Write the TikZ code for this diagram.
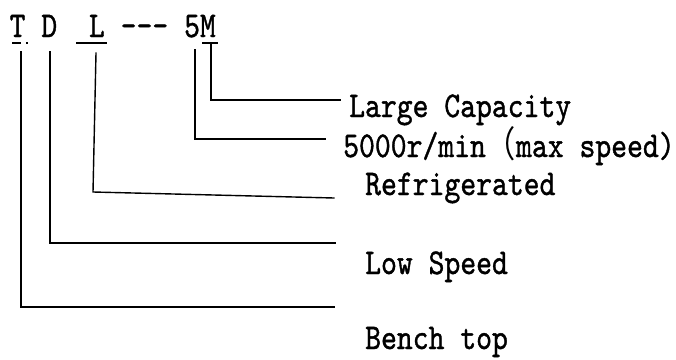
\documentclass[tikz,border=0pt]{standalone}
\usepackage{fontspec}
\usepackage{graphicx}
\newfontfamily\cjk{Noto Sans CJK SC}
\newfontfamily\codefont[FakeBold=1.2]{lmmono10-regular.otf}
\newcommand{\tallt}[1]{\scalebox{1}[1.2]{#1}}
\tikzset{
  lbl/.style={anchor=base west, inner sep=0pt,
              font=\codefont\fontsize{30.2}{36}\selectfont},
  conn/.style={line width=1.4pt, line join=miter, line cap=rect},
  uline/.style={line width=2pt},
}
\begin{document}
\begin{tikzpicture}[x=1pt, y=-1pt]
  \useasboundingbox (0,0) rectangle (676,359);

  % model code
  \node[lbl] (code) at (9.5,37) {\tallt{T D\ \ L --- 5M}};
  \draw[uline] (12,43) -- (21,43);
  \draw[uline] (26,43) -- (27.5,43);
  \draw[uline] (76,43) -- (107,43);
  \draw[uline] (202,43) -- (218,43);

  % meanings
  \node[lbl] (cap)   at (349,117) {\tallt{Large Capacity}};
  \node[lbl] (speed) at (343,157) {\tallt{5000r/min{\cjk （}max speed)}};
  \node[lbl] (refr)  at (365,195) {\tallt{Refrigerated}};
  \node[lbl] (low)   at (365,274) {\tallt{Low Speed}};
  \node[lbl] (bench) at (365,349) {\tallt{Bench top}};

  % connector end points
  \coordinate (mTop) at (211,43);   \coordinate (mEnd) at (340,100);
  \coordinate (fTop) at (195,50);   \coordinate (fEnd) at (325,139);
  \coordinate (lTop) at (96,53);    \coordinate (lBend) at (93,192);
  \coordinate (lEnd) at (334,198);
  \coordinate (dTop) at (50,52);    \coordinate (dEnd) at (335,243);
  \coordinate (tTop) at (21,52);    \coordinate (tEnd) at (334,307);

  % connectors
  \draw[conn] (mTop) |- (mEnd);
  \draw[conn] (fTop) |- (fEnd);
  \draw[conn] (lTop) -- (lBend) -- (lEnd);
  \draw[conn] (dTop) |- (dEnd);
  \draw[conn] (tTop) |- (tEnd);
\end{tikzpicture}
\end{document}
